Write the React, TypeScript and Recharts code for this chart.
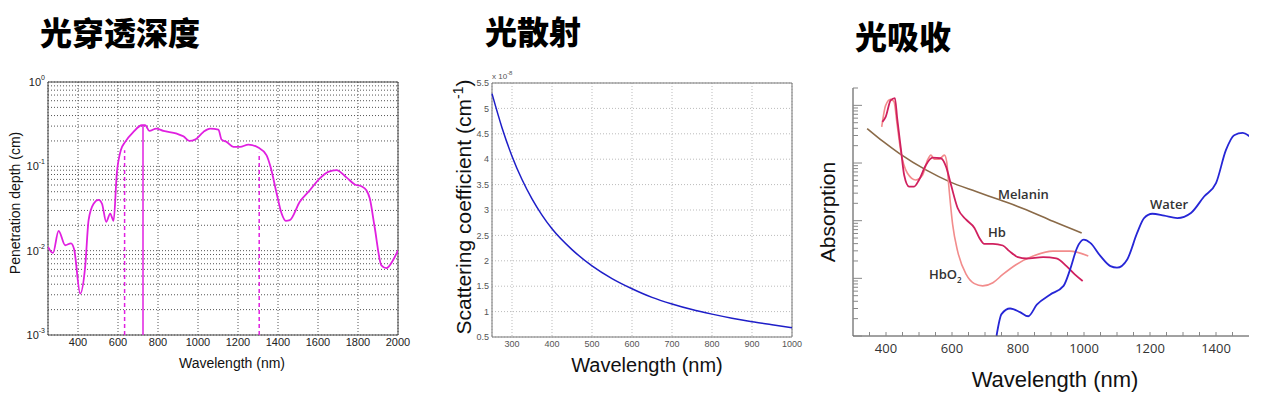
import {
  CartesianGrid,
  Line,
  LineChart,
  ReferenceArea,
  ReferenceLine,
  XAxis,
  YAxis,
} from "recharts";

// 光穿透深度
const depthNm = [
  250, 275, 303, 336, 365, 381, 411, 436, 453, 478, 503, 520, 541, 561, 578, 594, 614, 636, 677, 719,
  736, 757, 791, 827, 894, 927, 957, 985, 1027, 1060, 1102, 1118, 1143, 1177, 1210, 1252, 1301, 1343,
  1363, 1393, 1418, 1439, 1459, 1509, 1559, 1609, 1651, 1692, 1742, 1784, 1817, 1842, 1859, 1883,
  1917, 1942, 1975, 2000,
];
const depthCm = [
  0.0111, 0.0094, 0.0172, 0.0116, 0.0122, 0.0103, 0.0031, 0.0065, 0.023, 0.036, 0.04, 0.036, 0.022,
  0.0275, 0.0226, 0.082, 0.155, 0.195, 0.256, 0.307, 0.307, 0.263, 0.28, 0.263, 0.244, 0.227, 0.2,
  0.207, 0.256, 0.28, 0.273, 0.207, 0.195, 0.17, 0.17, 0.181, 0.167, 0.135, 0.098, 0.048, 0.0276,
  0.0226, 0.023, 0.038, 0.052, 0.072, 0.086, 0.09, 0.074, 0.061, 0.058, 0.052, 0.0415, 0.0192,
  0.0067, 0.0062, 0.0077, 0.0101,
];
const markerNm = [633, 725, 1306];
const markerTop = [0.155, 0.3, 0.145];
const markerDashed = [true, false, true];
const depthXTicks = [400, 600, 800, 1000, 1200, 1400, 1600, 1800, 2000];
const depthDecades = [0.001, 0.01, 0.1];

// 光散射
const scatNm = [250, 275, 300, 325, 350, 375, 400, 450, 500, 550, 600, 650, 700, 750, 800, 850, 900, 950, 1000];
const scatVal = [5.29, 4.62, 4.06, 3.6, 3.22, 2.9, 2.63, 2.22, 1.9, 1.65, 1.45, 1.28, 1.15, 1.04, 0.95, 0.87, 0.8, 0.74, 0.68];
const scatXTicks = [300, 400, 500, 600, 700, 800, 900, 1000];
const scatYTicks = [0.5, 1, 1.5, 2, 2.5, 3, 3.5, 4, 4.5, 5, 5.5];

// 光吸收
const melaninNm = [343, 392, 440, 521, 592, 673, 744, 825, 906, 993];
const melaninVal = [3.96, 2.34, 1.47, 0.759, 0.476, 0.321, 0.23, 0.155, 0.0975, 0.0612];
const hbNm = [
  389, 399, 414, 427, 434, 445, 455, 470, 485, 500, 521, 541, 566, 582, 597, 617, 643, 668, 683, 698,
  724, 754, 774, 800, 825, 876, 916, 947, 972, 996,
];
const hbVal = [
  5.16, 6.3, 12.2, 13.4, 5.89, 1.79, 0.621, 0.391, 0.391, 0.509, 0.925, 1.24, 1.21, 0.865, 0.418,
  0.166, 0.104, 0.0748, 0.0502, 0.0396, 0.0396, 0.0371, 0.0296, 0.0233, 0.0221, 0.0233, 0.0221,
  0.0163, 0.0117, 0.009,
];
const hbo2Nm = [
  387, 399, 414, 424, 434, 445, 465, 490, 511, 526, 536, 546, 561, 577, 584, 590, 602, 617, 643, 668,
  693, 724, 754, 795, 846, 906, 957, 1013,
];
const hbo2Val = [
  4.24, 10, 12.7, 11.7, 4.52, 1.57, 0.664, 0.509, 0.621, 1.13, 1.37, 1.17, 1.17, 1.37, 1.05, 0.418,
  0.0853, 0.0296, 0.0117, 0.0081, 0.0074, 0.0084, 0.0117, 0.0174, 0.0243, 0.0296, 0.0296, 0.0243,
];
const waterNm = [
  735, 750, 776, 806, 831, 857, 897, 938, 958, 979, 999, 1019, 1050, 1080, 1100, 1131, 1161, 1182,
  1207, 1243, 1283, 1324, 1364, 1400, 1430, 1455, 1481, 1501,
];
const waterVal = [
  0.00101, 0.0024, 0.003, 0.0026, 0.0022, 0.0035, 0.0052, 0.0074, 0.0143, 0.0339, 0.0468, 0.0412,
  0.0243, 0.0163, 0.0153, 0.0213, 0.0612, 0.111, 0.132, 0.122, 0.111, 0.136, 0.263, 0.446, 1.67,
  3.04, 3.33, 2.92,
];
const absXTicks = [350, 400, 450, 500, 550, 600, 650, 700, 750, 800, 850, 900, 950, 1000, 1050, 1100, 1150, 1200, 1250, 1300, 1350, 1400, 1450];
const absXLabels = [400, 600, 800, 1000, 1200, 1400];
const absDecades = [0.001, 0.01, 0.1, 1, 10];

const zip = (xs: number[], ys: number[]) => xs.map((x, i) => ({ x, y: ys[i] }));

// minor log ticks: 1..9 x each decade
const logTicks = (decades: number[], max: number) =>
  decades
    .flatMap((d) => [1, 2, 3, 4, 5, 6, 7, 8, 9].map((k) => Number((k * d).toPrecision(3))))
    .concat([max])
    .filter((v, i, a) => v <= max && a.indexOf(v) === i);

const isDecade = (v: number) => Math.abs(Math.log10(v) - Math.round(Math.log10(v))) < 1e-6;

const SANS = "'Liberation Sans', Arial, sans-serif";
const CJK = "'Noto Sans CJK SC', sans-serif";

const DepthYTick = ({ x, y, payload }: any) => {
  const v = payload.value as number;
  if (!isDecade(v)) return <g />;
  const e = Math.round(Math.log10(v));
  return (
    <text x={x - 3} y={y + 4} textAnchor="end" fontSize={11} fill="#222" fontFamily={SANS}>
      <tspan>10</tspan>
      <tspan dy={-6} fontSize={7}>
        {e}
      </tspan>
    </text>
  );
};

const AbsYTick = ({ x, y, payload }: any) => {
  const len = isDecade(payload.value) ? 9 : 5;
  return <line x1={x} x2={x + len} y1={y} y2={y} stroke="#888" strokeWidth={1} />;
};

const AbsXTick = ({ x, y, payload }: any) => (
  <g>
    <line x1={x} x2={x} y1={y} y2={y - 4} stroke="#888" />
    {absXLabels.includes(payload.value) && (
      <text x={x} y={y + 17} textAnchor="middle" fontSize={13} fill="#333" fontFamily="'Open Sans', sans-serif">
        {payload.value}
      </text>
    )}
  </g>
);

const Title = ({ text, left, top }: { text: string; left: number; top: number }) => (
  <div
    style={{
      position: "absolute",
      left,
      top,
      fontFamily: CJK,
      fontWeight: 900,
      fontSize: 32,
      lineHeight: "32px",
      color: "#000",
      whiteSpace: "nowrap",
    }}
  >
    {text}
  </div>
);

const AxisText = ({
  children,
  cx,
  cy,
  size,
  rotate = false,
  font = SANS,
}: {
  children: React.ReactNode;
  cx: number;
  cy: number;
  size: number;
  rotate?: boolean;
  font?: string;
}) => (
  <div
    style={{
      position: "absolute",
      left: cx,
      top: cy,
      transform: `translate(-50%, -50%)${rotate ? " rotate(-90deg)" : ""}`,
      fontFamily: font,
      fontSize: size,
      lineHeight: 1,
      color: "#111",
      whiteSpace: "nowrap",
    }}
  >
    {children}
  </div>
);

const Note = ({ children, left, top }: { children: React.ReactNode; left: number; top: number }) => (
  <div
    style={{
      position: "absolute",
      left,
      top,
      fontFamily: "'Open Sans', sans-serif",
      fontWeight: 600,
      fontSize: 13,
      lineHeight: 1,
      color: "#333",
      whiteSpace: "nowrap",
    }}
  >
    {children}
  </div>
);

function DepthChart() {
  const data = zip(depthNm, depthCm);
  const yTicks = logTicks(depthDecades, 1);
  return (
    <div style={{ position: "absolute", left: 0, top: 0 }}>
      <LineChart width={420} height={398} data={data} margin={{ top: 82, right: 22, bottom: 43, left: 0 }}>
        <CartesianGrid stroke="#555" strokeDasharray="1 2" horizontal={false} />
        <XAxis
          dataKey="x"
          type="number"
          domain={[250, 2000]}
          ticks={depthXTicks}
          interval={0}
          tickLine={false}
          axisLine={false}
          tickSize={0}
          tickMargin={3}
          height={20}
          tick={{ fontSize: 11, fill: "#222", fontFamily: SANS }}
          allowDataOverflow
        />
        <YAxis
          type="number"
          scale="log"
          domain={[0.001, 1]}
          ticks={yTicks}
          interval={0}
          tickLine={false}
          axisLine={false}
          tickSize={0}
          tickMargin={0}
          width={48}
          tick={<DepthYTick />}
          allowDataOverflow
        />
        {yTicks.map((v) => (
          <ReferenceLine key={v} y={v} stroke="#555" strokeDasharray="1 2" />
        ))}
        <ReferenceArea x1={250} x2={2000} y1={0.001} y2={1} fill="none" stroke="#444" strokeWidth={1} />
        {markerNm.map((nm, i) => (
          <ReferenceLine
            key={nm}
            segment={[
              { x: nm, y: 0.001 },
              { x: nm, y: markerTop[i] },
            ]}
            stroke="#E020E0"
            strokeWidth={1.5}
            strokeDasharray={markerDashed[i] ? "4 3" : undefined}
          />
        ))}
        <Line
          dataKey="y"
          type="monotone"
          stroke="#E020E0"
          strokeWidth={1.8}
          dot={false}
          isAnimationActive={false}
        />
      </LineChart>
    </div>
  );
}

function ScatterChart() {
  const data = zip(scatNm, scatVal);
  return (
    <div style={{ position: "absolute", left: 430, top: 0 }}>
      <LineChart width={380} height={398} data={data} margin={{ top: 83, right: 18, bottom: 41, left: 0 }}>
        <CartesianGrid stroke="#bbb" strokeDasharray="1 2" />
        <XAxis
          dataKey="x"
          type="number"
          domain={[250, 1000]}
          ticks={scatXTicks}
          interval={0}
          tickLine={false}
          axisLine={false}
          tickSize={0}
          tickMargin={4}
          height={20}
          tick={{ fontSize: 9, fill: "#555", fontFamily: SANS }}
        />
        <YAxis
          type="number"
          domain={[0.5, 5.5]}
          ticks={scatYTicks}
          interval={0}
          tickLine={false}
          axisLine={false}
          tickSize={0}
          tickMargin={3}
          width={62}
          tick={{ fontSize: 9, fill: "#555", fontFamily: SANS }}
        />
        <ReferenceArea x1={250} x2={1000} y1={0.5} y2={5.5} fill="none" stroke="#777" strokeWidth={1} />
        <Line
          dataKey="y"
          type="monotone"
          stroke="#1E1EC8"
          strokeWidth={1.5}
          dot={false}
          isAnimationActive={false}
        />
      </LineChart>
    </div>
  );
}

function AbsorptionChart() {
  const yTicks = logTicks(absDecades, 20);
  const series = [
    { name: "Melanin", data: zip(melaninNm, melaninVal), color: "#8A6A48", width: 1.6 },
    { name: "HbO2", data: zip(hbo2Nm, hbo2Val), color: "#F28C8C", width: 1.6 },
    { name: "Hb", data: zip(hbNm, hbVal), color: "#D0205E", width: 1.8 },
    { name: "Water", data: zip(waterNm, waterVal), color: "#2626D6", width: 1.8 },
  ];
  return (
    <div style={{ position: "absolute", left: 810, top: 0 }}>
      <LineChart width={462} height={398} margin={{ top: 88, right: 23, bottom: 40, left: 0 }}>
        <XAxis
          dataKey="x"
          type="number"
          domain={[300, 1500]}
          ticks={absXTicks}
          interval={0}
          axisLine={{ stroke: "#444" }}
          tickLine={false}
          tickSize={0}
          tickMargin={0}
          height={22}
          tick={<AbsXTick />}
          allowDataOverflow
        />
        <YAxis
          type="number"
          scale="log"
          domain={[0.001, 20]}
          ticks={yTicks}
          interval={0}
          axisLine={{ stroke: "#444" }}
          tickLine={false}
          tickSize={0}
          tickMargin={0}
          width={43}
          tick={<AbsYTick />}
          allowDataOverflow
        />
        {series.map((s) => (
          <Line
            key={s.name}
            data={s.data}
            dataKey="y"
            name={s.name}
            type="monotone"
            stroke={s.color}
            strokeWidth={s.width}
            dot={false}
            isAnimationActive={false}
          />
        ))}
      </LineChart>
    </div>
  );
}

export default function App() {
  return (
    <div
      style={{
        position: "absolute",
        left: 0,
        top: 0,
        width: 1272,
        height: 398,
        background: "#fff",
        overflow: "hidden",
      }}
    >
      <Title text="光穿透深度" left={40} top={15} />
      <Title text="光散射" left={485} top={14} />
      <Title text="光吸收" left={855} top={19} />

      <DepthChart />
      <AxisText cx={15} cy={203} size={14} rotate>
        Penetration depth (cm)
      </AxisText>
      <AxisText cx={232} cy={363} size={14}>
        Wavelength (nm)
      </AxisText>

      <ScatterChart />
      <div
        style={{
          position: "absolute",
          left: 492,
          top: 70,
          fontFamily: SANS,
          fontSize: 8,
          color: "#555",
          whiteSpace: "nowrap",
        }}
      >
        x 10<sup style={{ fontSize: 6 }}>-8</sup>
      </div>
      <AxisText cx={462} cy={207} size={21} rotate>
        Scattering coefficient (cm<sup style={{ fontSize: 14 }}>-1</sup>)
      </AxisText>
      <AxisText cx={647} cy={365} size={20}>
        Wavelength (nm)
      </AxisText>

      <AbsorptionChart />
      <AxisText cx={827} cy={212} size={21} rotate>
        Absorption
      </AxisText>
      <AxisText cx={1055} cy={380} size={22}>
        Wavelength (nm)
      </AxisText>
      <Note left={998} top={188}>Melanin</Note>
      <Note left={988} top={226}>Hb</Note>
      <Note left={929} top={268}>
        HbO<sub style={{ fontSize: 8 }}>2</sub>
      </Note>
      <Note left={1150} top={198}>Water</Note>
    </div>
  );
}
